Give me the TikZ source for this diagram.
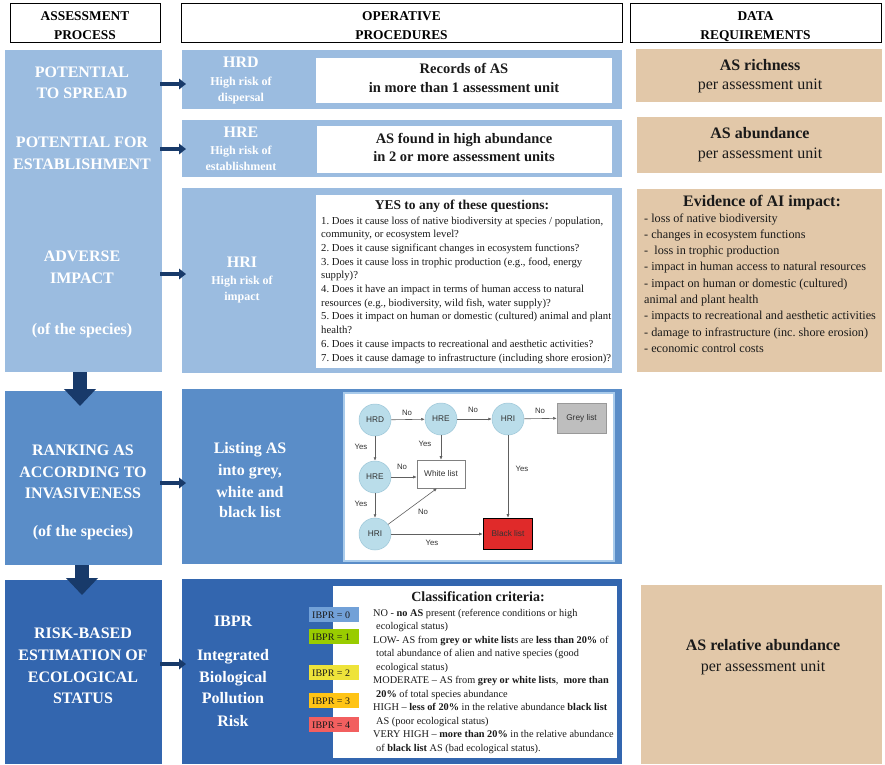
\documentclass[tikz,border=0pt]{standalone}
\usepackage{fontspec}
\setmainfont{Liberation Serif}
\newfontfamily\arialf{Liberation Sans}
\usetikzlibrary{arrows.meta}
\newcommand{\myfs}[1]{\fontsize{#1}{#1}\selectfont}
\definecolor{lblue}{HTML}{9BBCE0}
\definecolor{mblue}{HTML}{5A8DC8}
\definecolor{dblue}{HTML}{3366AF}
\definecolor{navy}{HTML}{183A6A}
\definecolor{tanc}{HTML}{E2C8A9}
\definecolor{txt}{HTML}{1A1A1A}
\definecolor{fcblue}{HTML}{BADDEA}
\definecolor{fcedge}{HTML}{9CC6D8}
\definecolor{fcline}{HTML}{606060}
\definecolor{fctext}{HTML}{333333}
\definecolor{greyl}{HTML}{BEBEBE}
\definecolor{blackl}{HTML}{E02A2A}
\definecolor{frameb}{HTML}{A9CBEB}
\definecolor{ib0}{HTML}{72A1D8}
\definecolor{ib1}{HTML}{99CC00}
\definecolor{ib2}{HTML}{EEE33A}
\definecolor{ib3}{HTML}{FFC415}
\definecolor{ib4}{HTML}{F25F5F}
\frenchspacing
\begin{document}
\begin{tikzpicture}[x=1pt,y=-1pt,
  box/.style={anchor=north west, inner sep=0, outer sep=0, draw=none},
  hdr/.style={box, fill=white, draw=black, line width=0.9pt},
  hdt/.style={inner sep=0, anchor=base, text=black, font=\bfseries\myfs{13.4}},
  wt/.style={inner sep=0, anchor=base, text=white, font=\bfseries\myfs{16}},
  ws/.style={inner sep=0, anchor=base, text=white, font=\bfseries\myfs{12}},
  bt/.style={inner sep=0, anchor=base, text=txt},
  lt/.style={inner sep=0, anchor=base west, text=txt},
  sarr/.style={draw=navy, line width=3.6pt, shorten <=-2pt, shorten >=-4pt, -{Triangle[length=7pt,width=10.5pt]}},
  barr/.style={draw=navy, line width=14pt, shorten >=-15pt, -{Triangle[length=17pt,width=31pt]}},
  fc/.style={circle, fill=fcblue, draw=fcedge, line width=0.5pt, minimum size=32pt, inner sep=0, font=\arialf\myfs{8.3}, text=fctext},
  fcbox/.style={rectangle, inner sep=0, font=\arialf\myfs{8.3}, text=fctext},
  fl/.style={inner sep=0, font=\arialf\myfs{7.8}, text=fctext},
  fa/.style={draw=fcline, line width=0.6pt, -{Latex[length=3.5pt,width=3pt]}},
  ibl/.style={anchor=north west, inner sep=0, minimum width=50pt, minimum height=15pt},
  ibt/.style={inner sep=0, anchor=base west, text=txt, font=\myfs{10}}
]
\useasboundingbox (0,0) rectangle (885,764);
\fill[white] (0,0) rectangle (885,764);

% headers
\fill[black] (11.3,4.3) rectangle ++(150,39);
\node[hdr, minimum width=150pt, minimum height=39pt] (h1) at (10,3) {};
\fill[black] (182.3,4.3) rectangle ++(441,39);
\node[hdr, minimum width=441pt, minimum height=39pt] (h2) at (181,3) {};
\fill[black] (631.3,4.3) rectangle ++(251,39);
\node[hdr, minimum width=251pt, minimum height=39pt] (h3) at (630,3) {};
\node[hdt] (h1a) at (85,20.5) {ASSESSMENT};
\node[hdt] (h1b) at (85,39) {PROCESS};
\node[hdt] (h2a) at (401.5,20.5) {OPERATIVE};
\node[hdt] (h2b) at (401.5,39) {PROCEDURES};
\node[hdt] (h3a) at (755.5,20.5) {DATA};
\node[hdt] (h3b) at (755.5,39) {REQUIREMENTS};

% left column
\node[box, fill=lblue, minimum width=157pt, minimum height=322pt] (lb1) at (5,50) {};
\node[box, fill=mblue, minimum width=157pt, minimum height=174pt] (lb2) at (5,391) {};
\node[box, fill=dblue, minimum width=157pt, minimum height=184pt] (lb3) at (5,580) {};

% middle column
\node[box, fill=lblue, minimum width=440pt, minimum height=59pt] (m1) at (182,50) {};
\node[box, fill=lblue, minimum width=440pt, minimum height=57pt] (m2) at (182,120) {};
\node[box, fill=lblue, minimum width=440pt, minimum height=185pt] (m3) at (182,188) {};
\node[box, fill=mblue, minimum width=440pt, minimum height=175pt] (m4) at (182,389) {};
\node[box, fill=dblue, minimum width=440pt, minimum height=185pt] (m5) at (182,579) {};

\node[box, fill=white, minimum width=296pt, minimum height=45pt] (w1) at (316,58) {};
\node[box, fill=white, minimum width=295pt, minimum height=47pt] (w2) at (317,126) {};
\node[box, fill=white, minimum width=296pt, minimum height=173pt] (w3) at (316,195) {};
\node[box, fill=white, draw=frameb, line width=2pt, minimum width=270pt, minimum height=168pt] (w4) at (344,393) {};
\node[box, fill=white, minimum width=284pt, minimum height=172pt] (w5) at (333,586) {};

% right column
\node[box, fill=tanc, minimum width=246pt, minimum height=53pt] (r1) at (636,49) {};
\node[box, fill=tanc, minimum width=245pt, minimum height=56pt] (r2) at (637,117) {};
\node[box, fill=tanc, minimum width=245pt, minimum height=183pt] (r3) at (637,189) {};
\node[box, fill=tanc, minimum width=241pt, minimum height=179pt] (r4) at (641,585) {};

% arrows
\coordinate (ya1) at (0,84);
\coordinate (ya2) at (0,149);
\coordinate (ya3) at (0,274);
\coordinate (ya4) at (0,483);
\coordinate (ya5) at (0,664);
\draw[sarr] (lb1.east |- ya1) -- (m1.west |- ya1);
\draw[sarr] (lb1.east |- ya2) -- (m2.west |- ya2);
\draw[sarr] (lb1.east |- ya3) -- (m3.west |- ya3);
\draw[sarr] (lb2.east |- ya4) -- (m4.west |- ya4);
\draw[sarr] (lb3.east |- ya5) -- (m5.west |- ya5);
\draw[barr] ([xshift=-3.5pt]lb1.south) -- ([xshift=-3.5pt]lb2.north);
\draw[barr] ([xshift=-1.5pt]lb2.south) -- ([xshift=-1.5pt]lb3.north);

% left texts
\node[wt] (l1a) at (82,77) {POTENTIAL};
\node[wt] (l1b) at (82,98) {TO SPREAD};
\node[wt] (l2a) at (82,147) {POTENTIAL FOR};
\node[wt] (l2b) at (82,169) {ESTABLISHMENT};
\node[wt] (l3a) at (82,261) {ADVERSE};
\node[wt] (l3b) at (82,283) {IMPACT};
\node[wt] (l3c) at (82,334) {(of the species)};
\node[wt] (l4a) at (83,455) {RANKING AS};
\node[wt] (l4b) at (83,477) {ACCORDING TO};
\node[wt] (l4c) at (83,498) {INVASIVENESS};
\node[wt] (l4d) at (83,536) {(of the species)};
\node[wt] (l5a) at (83,638) {RISK-BASED};
\node[wt] (l5b) at (83,660) {ESTIMATION OF};
\node[wt] (l5c) at (83,682) {ECOLOGICAL};
\node[wt] (l5d) at (83,703) {STATUS};

% middle labels
\node[wt] (hrd) at (241,67) {HRD};
\node[ws] (hrd1) at (241,85) {High risk of};
\node[ws] (hrd2) at (241,101) {dispersal};
\node[wt] (hre) at (241,137) {HRE};
\node[ws] (hre1) at (241,154) {High risk of};
\node[ws] (hre2) at (241,170) {establishment};
\node[wt] (hri) at (242,267) {HRI};
\node[ws] (hri1) at (242,284) {High risk of};
\node[ws] (hri2) at (242,300) {impact};
\node[wt] (ls1) at (250,453) {Listing AS};
\node[wt] (ls2) at (250,475) {into grey,};
\node[wt] (ls3) at (250,497) {white and};
\node[wt] (ls4) at (250,517) {black list};
\node[wt] (ib1t) at (233,626) {IBPR};
\node[wt] (ib2t) at (233,660) {Integrated};
\node[wt] (ib3t) at (233,682) {Biological};
\node[wt] (ib4t) at (233,703) {Pollution};
\node[wt] (ib5t) at (233,726) {Risk};

% white box texts
\node[bt, font=\bfseries\myfs{14.5}] (rec1) at (464,73) {Records of AS};
\node[bt, font=\bfseries\myfs{14.5}] (rec2) at (464,92) {in more than 1 assessment unit};
\node[bt, font=\bfseries\myfs{14.5}] (ab1) at (464,143) {AS found in high abundance};
\node[bt, font=\bfseries\myfs{14.5}] (ab2) at (464,161) {in 2 or more assessment units};

\node[bt, font=\bfseries\myfs{13.5}] (yes) at (462,209) {YES to any of these questions:};
\begin{scope}[every node/.style={lt, font=\myfs{10.7}}]
\node (q1) at (321,224) {1. Does it cause loss of native biodiversity at species / population,};
\node (q2) at (321,237.7) {community, or ecosystem level?};
\node (q3) at (321,251.4) {2. Does it cause significant changes in ecosystem functions?};
\node (q4) at (321,265.1) {3. Does it cause loss in trophic production (e.g., food, energy};
\node (q5) at (321,278.8) {supply)?};
\node (q6) at (321,292.5) {4. Does it have an impact in terms of human access to natural};
\node (q7) at (321,306.2) {resources (e.g., biodiversity, wild fish, water supply)?};
\node (q8) at (321,319.9) {5. Does it impact on human or domestic (cultured) animal and plant};
\node (q9) at (321,333.6) {health?};
\node (q10) at (321,347.3) {6. Does it cause impacts to recreational and aesthetic activities?};
\node (q11) at (321,361) {7. Does it cause damage to infrastructure (including shore erosion)?};
\end{scope}

% right texts
\node[bt, font=\bfseries\myfs{16}] (rt1) at (760,70) {AS richness};
\node[bt, font=\myfs{16}] (rt2) at (760,89) {per assessment unit};
\node[bt, font=\bfseries\myfs{16}] (rt3) at (760,138) {AS abundance};
\node[bt, font=\myfs{16}] (rt4) at (760,158) {per assessment unit};
\node[bt, font=\bfseries\myfs{16}] (ev) at (762,206) {Evidence of AI impact:};
\begin{scope}[every node/.style={lt, font=\myfs{12.2}}]
\node (e1) at (644,222) {- loss of native biodiversity};
\node (e2) at (644,238.3) {- changes in ecosystem functions};
\node (e3) at (644,254.6) {-\ \ loss in trophic production};
\node (e4) at (644,270.9) {- impact in human access to natural resources};
\node (e5) at (644,287.2) {- impact on human or domestic (cultured)};
\node (e6) at (644,303.5) {animal and plant health};
\node (e7) at (644,319.8) {- impacts to recreational and aesthetic activities};
\node (e8) at (644,336.1) {- damage to infrastructure (inc. shore erosion)};
\node (e9) at (644,352.4) {- economic control costs};
\end{scope}
\node[bt, font=\bfseries\myfs{16}] (rt5) at (763,650) {AS relative abundance};
\node[bt, font=\myfs{16}] (rt6) at (763,671) {per assessment unit};

% flowchart
\node[fc] (fHRD) at (375,420) {HRD};
\node[fc] (fHREa) at (441,419) {HRE};
\node[fc] (fHRIa) at (508,419) {HRI};
\node[fcbox, fill=greyl, draw=gray!80, line width=0.5pt, minimum width=49pt, minimum height=30pt] (fGrey) at (581.5,418) {Grey list};
\node[fc] (fHREb) at (375,477) {HRE};
\node[fcbox, fill=white, draw=gray, line width=0.6pt, minimum width=48pt, minimum height=28pt] (fWhite) at (441,474) {White list};
\node[fc] (fHRIb) at (375,534) {HRI};
\node[fcbox, fill=blackl, draw=black, line width=1.6pt, minimum width=49pt, minimum height=31pt] (fBlack) at (508,534) {Black list};
\draw[fa] (fHRD) -- (fHREa);
\draw[fa] (fHREa) -- (fHRIa);
\draw[fa] (fHRIa) -- (fGrey);
\draw[fa] (fHRD) -- (fHREb);
\draw[fa] (fHREa) -- (fWhite);
\draw[fa] (fHREb.east) -- (fWhite.west |- fHREb.east);
\draw[fa] (fHREb) -- (fHRIb);
\draw[fa] (fHRIb) -- ([xshift=-4pt]fWhite.south);
\draw[fa] (fHRIa) -- (fBlack);
\draw[fa] (fHRIb) -- (fBlack);
\node[fl] (n1) at (407,413) {No};
\node[fl] (n2) at (473,410) {No};
\node[fl] (n3) at (540,411) {No};
\node[fl] (y1) at (361,447) {Yes};
\node[fl] (y2) at (425,444) {Yes};
\node[fl] (n4) at (402,467) {No};
\node[fl] (y3) at (361,504) {Yes};
\node[fl] (n5) at (423,512) {No};
\node[fl] (y4) at (522,469) {Yes};
\node[fl] (y5) at (432,543) {Yes};

% classification
\node[bt, font=\bfseries\myfs{14}] (cc) at (478,601) {Classification criteria:};
\node[ibl, fill=ib0] (L0) at (309,607) {};
\node[ibl, fill=ib1] (L1) at (309,629) {};
\node[ibl, fill=ib2] (L2) at (309,665) {};
\node[ibl, fill=ib3] (L3) at (309,693) {};
\node[ibl, fill=ib4] (L4) at (309,717) {};
\node[ibt] (L0t) at (312,618.5) {IBPR = 0};
\node[ibt] (L1t) at (312,640.5) {IBPR = 1};
\node[ibt] (L2t) at (312,676.5) {IBPR = 2};
\node[ibt] (L3t) at (312,704.5) {IBPR = 3};
\node[ibt] (L4t) at (312,728.5) {IBPR = 4};
\begin{scope}[every node/.style={lt, font=\myfs{10.3}}]
\node (c1) at (373,616) {NO - \textbf{no AS} present (reference conditions or high};
\node (c2) at (376,629.5) {ecological status)};
\node (c3) at (373,643) {LOW- AS from \textbf{grey or white list}s are \textbf{less than 20\%} of};
\node (c4) at (376,656.5) {total abundance of alien and native species (good};
\node (c5) at (376,670) {ecological status)};
\node (c6) at (373,683.5) {MODERATE -- AS from \textbf{grey or white lists},\ \ \textbf{more than}};
\node (c7) at (376,697) {\textbf{20\%} of total species abundance};
\node (c8) at (373,710.5) {HIGH -- \textbf{less of 20\%} in the relative abundance \textbf{black list}};
\node (c9) at (376,724) {AS (poor ecological status)};
\node (c10) at (373,737.5) {VERY HIGH -- \textbf{more than 20\%} in the relative abundance};
\node (c11) at (376,751) {of \textbf{black list} AS (bad ecological status).};
\end{scope}
\end{tikzpicture}
\end{document}
